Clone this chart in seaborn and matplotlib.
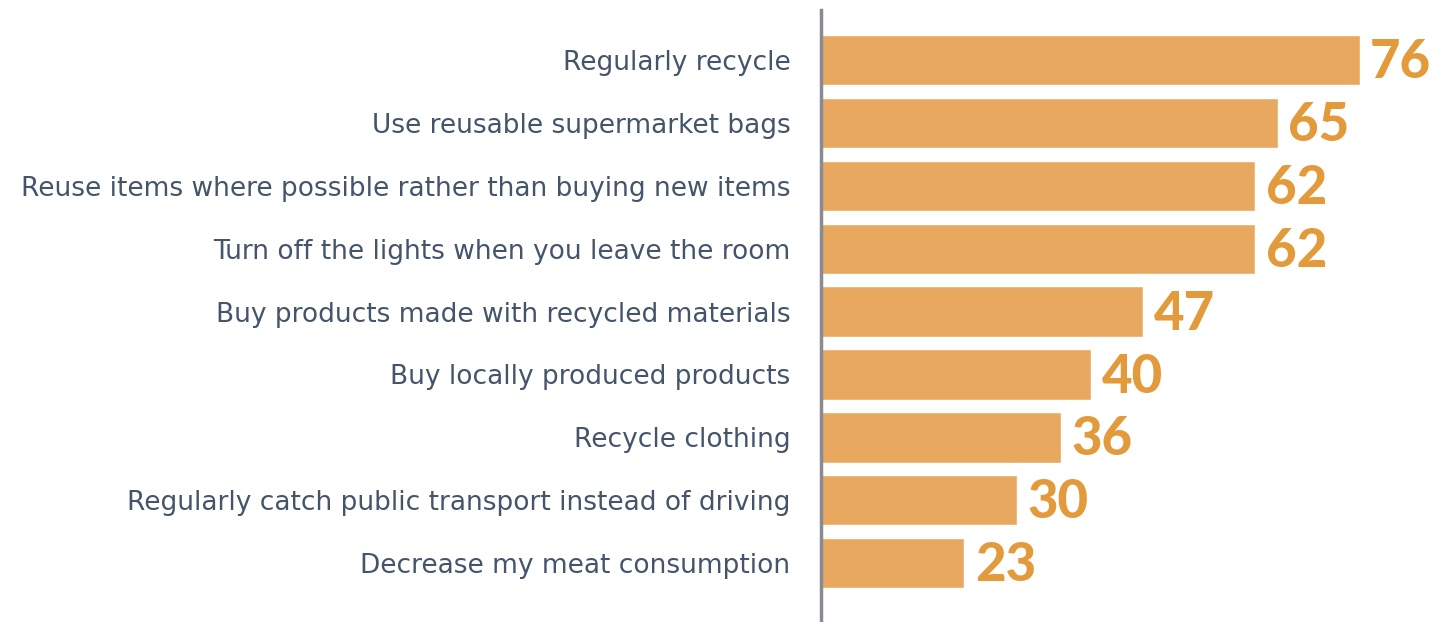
import matplotlib
matplotlib.use("Agg")
import matplotlib.pyplot as plt
import seaborn as sns
import pandas as pd

# --- data ---
actions = [
    "Regularly recycle",
    "Use reusable supermarket bags",
    "Reuse items where possible rather than buying new items",
    "Turn off the lights when you leave the room",
    "Buy products made with recycled materials",
    "Buy locally produced products",
    "Recycle clothing",
    "Regularly catch public transport instead of driving",
    "Decrease my meat consumption",
]
percent = [76, 65, 62, 62, 47, 40, 36, 30, 23]

bar_color = "#E8A860"
value_color = "#E39A3B"
label_color = "#44546A"

df = pd.DataFrame({"action": actions, "percent": percent})

sns.set_theme(style="white")
plt.rcParams["font.family"] = ["Lato", "DejaVu Sans"]

fig = plt.figure(figsize=(14.46, 6.22), dpi=100)
ax = fig.add_axes([821 / 1446, 0.0, 1 - 821 / 1446, 612 / 622])

sns.barplot(data=df, x="percent", y="action", orient="h", color=bar_color,
            saturation=1, width=0.8, ax=ax)

ax.set_xlim(3.76, 87.6)
ax.set_ylim(8.935, -0.795)

for i, v in enumerate(percent):
    ax.text(v + 1.4, i + 0.04, str(v), va="center", ha="left", color=value_color,
            fontsize=38, fontweight="black")

ax.set_xlabel("")
ax.set_ylabel("")
ax.set_xticks([])
ax.tick_params(axis="y", length=0, pad=22, labelcolor=label_color)
# wider face for the category names, closer to the original's width
for lab in ax.get_yticklabels():
    lab.set_fontfamily("DejaVu Sans")
    lab.set_fontsize(19)

for side in ["top", "right", "bottom"]:
    ax.spines[side].set_visible(False)
ax.spines["left"].set_color("#8A8A94")
ax.spines["left"].set_linewidth(2.5)

fig.savefig("out.png", dpi=100)
